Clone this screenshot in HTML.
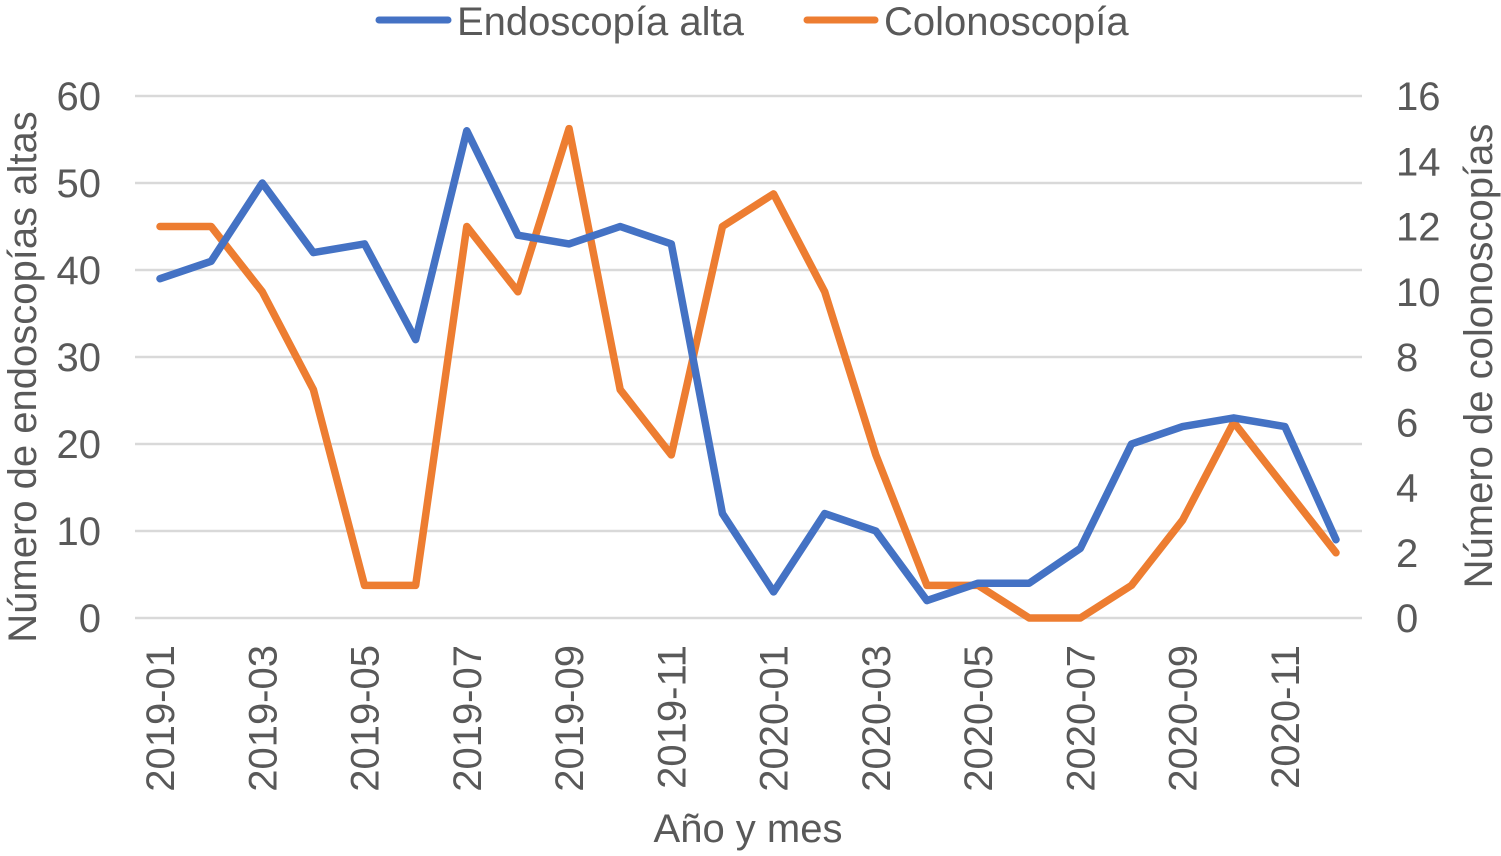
<!DOCTYPE html>
<html><head><meta charset="utf-8"><style>
body{margin:0;background:#fff;}
svg text{font-family:"Liberation Sans",Arial,sans-serif;fill:#595959;}
</style></head><body>
<svg id="chart" width="1501" height="851" viewBox="0 0 1501 851">
<g id="grid"></g>
<g id="ticks"></g>
<g id="series"></g>
<g>
<line x1="379" y1="20" x2="448" y2="20" stroke="#4472C4" stroke-width="7" stroke-linecap="round"/>
<text x="457" y="35" font-size="40">Endoscopía alta</text>
<line x1="807" y1="20" x2="875" y2="20" stroke="#ED7D31" stroke-width="7" stroke-linecap="round"/>
<text x="884" y="35" font-size="40">Colonoscopía</text>
</g>
<text transform="translate(36,377) rotate(-90)" text-anchor="middle" font-size="40">Número de endoscopías altas</text>
<text transform="translate(1492,356) rotate(-90)" text-anchor="middle" font-size="40">Número de colonoscopías</text>
<text x="748" y="842" text-anchor="middle" font-size="40">Año y mes</text>
</svg>
<script>
const months=["2019-01","2019-02","2019-03","2019-04","2019-05","2019-06","2019-07","2019-08","2019-09","2019-10","2019-11","2019-12","2020-01","2020-02","2020-03","2020-04","2020-05","2020-06","2020-07","2020-08","2020-09","2020-10","2020-11","2020-12"];
const endoscopia=[39,41,50,42,43,32,56,44,43,45,43,12,3,12,10,2,4,4,8,20,22,23,22,9];
const colonoscopia=[12,12,10,7,1,1,12,10,15,7,5,12,13,10,5,1,1,0,0,1,3,6,4,2];
const leftTicks=[0,10,20,30,40,50,60];
const rightTicks=[0,2,4,6,8,10,12,14,16];
const NS="http://www.w3.org/2000/svg";
const x0=160,x1=1336,yBot=618,yTop=96;
const xs=i=>x0+(x1-x0)*i/(months.length-1);
const yL=v=>yBot-(yBot-yTop)*v/60;
const yR=v=>yBot-(yBot-yTop)*v/16;
function mk(tag,attrs,parent){const e=document.createElementNS(NS,tag);for(const k in attrs)e.setAttribute(k,attrs[k]);parent.appendChild(e);return e;}
const grid=document.getElementById('grid'),ticks=document.getElementById('ticks'),series=document.getElementById('series');
leftTicks.forEach(v=>{
 const l=mk('line',{x1:135,x2:1362,y1:yL(v),y2:yL(v),stroke:'#d9d9d9','stroke-width':2.5},grid);
 
 
 const t=mk('text',{x:101,y:yL(v)+14,'text-anchor':'end','font-size':40},ticks);
 t.textContent=v;
 
 
});
rightTicks.forEach(v=>{
 const t=mk('text',{x:1396,y:yR(v)+14,'font-size':40},ticks);
 t.textContent=v;
 
 
});
months.forEach((m,i)=>{
 if(i%2)return;
 const t=mk('text',{transform:`translate(${xs(i)+14},645) rotate(-90)`,'text-anchor':'end','font-size':40},ticks);
 t.textContent=m;
 
 
});
function line(vals,yf,color,name){
 const p=mk('polyline',{points:vals.map((v,i)=>xs(i)+','+yf(v)).join(' '),fill:'none',stroke:color,'stroke-width':7.5,'stroke-linejoin':'round','stroke-linecap':'round'},series);
 
 
}
line(colonoscopia,yR,'#ED7D31','colonoscopia-line');
line(endoscopia,yL,'#4472C4','endoscopia-line');
</script>
</body></html>
